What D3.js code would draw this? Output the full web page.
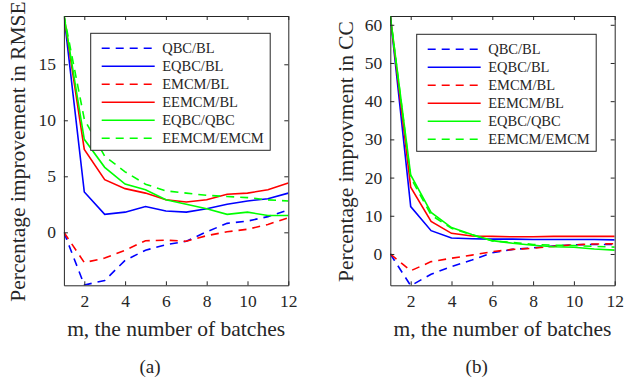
<!DOCTYPE html>
<html><head><meta charset="utf-8">
<script src="https://cdn.jsdelivr.net/npm/d3@7"></script>
<style>body{margin:0;background:#fff}svg{display:block}</style>
</head><body>
<svg id="c" width="641" height="388"></svg>
<script>
const batches = [1,2,3,4,5,6,7,8,9,10,11,12];
const seriesNames = ["QBC/BL","EQBC/BL","EMCM/BL","EEMCM/BL","EQBC/QBC","EEMCM/EMCM"];
const seriesColors = ["#0000ff","#0000ff","#ff0000","#ff0000","#00ff00","#00ff00"];
const seriesDashed = [true,false,true,false,false,true];

// Panel (a): RMSE improvement
const rmseQBC_BL     = [0,-4.7,-4.3,-2.5,-1.6,-1.1,-0.8,0.05,0.8,1.0,1.4,2.0];
const rmseEQBC_BL    = [19.4,3.6,1.6,1.8,2.3,1.9,1.8,2.1,2.5,2.8,3.0,3.5];
const rmseEMCM_BL    = [0,-2.7,-2.3,-1.6,-0.75,-0.7,-0.8,-0.3,0.05,0.27,0.7,1.3];
const rmseEEMCM_BL   = [19.4,7.4,4.7,3.9,3.5,2.9,2.7,2.9,3.4,3.5,3.8,4.4];
const rmseEQBC_QBC   = [19.4,8.3,5.8,4.3,3.8,2.9,2.5,2.1,1.6,1.8,1.5,1.5];
const rmseEEMCM_EMCM = [19.4,10.1,6.8,5.4,4.3,3.7,3.5,3.3,3.2,3.1,2.9,2.8];
const rmseTicks = [0,5,10,15];

// Panel (b): CC improvement
const ccQBC_BL     = [0,-8.3,-5.3,-3.3,-1.6,0.3,1.2,1.6,2.1,2.4,2.5,2.5];
const ccEQBC_BL    = [62.3,12.4,6.1,4.2,4.0,3.9,3.9,3.8,3.8,3.8,3.8,3.7];
const ccEMCM_BL    = [0,-4.4,-2.0,-1.1,-0.3,0.6,1.2,1.5,2.0,2.4,2.6,2.7];
const ccEEMCM_BL   = [62.3,17.5,8.5,5.4,4.7,4.6,4.5,4.5,4.6,4.6,4.6,4.6];
const ccEQBC_QBC   = [62.3,20.7,10.9,6.9,5.1,3.5,2.8,2.3,1.9,1.75,1.3,1.0];
const ccEEMCM_EMCM = [62.3,20.0,10.2,6.7,5.0,3.4,3.0,2.5,2.3,2.2,2.0,1.8];
const ccTicks = [0,10,20,30,40,50,60];

const xTicks = [2,4,6,8,10,12];

const svg = d3.select("#c");
const axisColor = "#262626";
const FONT = '"Liberation Serif"';

function panel(cfg){
  const g = svg.append("g");
  const x = d3.scaleLinear().domain([1,12]).range([cfg.x0,cfg.x1]);
  const y = d3.scaleLinear().domain(cfg.ydom).range([cfg.y1,cfg.y0]);
  const clipId = "clip"+cfg.id;
  svg.append("clipPath").attr("id",clipId).append("rect")
    .attr("x",cfg.x0).attr("y",cfg.y0).attr("width",cfg.x1-cfg.x0).attr("height",cfg.y1-cfg.y0);

  const line = d3.line().x((d,i)=>x(batches[i])).y(d=>y(d));
  const lines = g.append("g").attr("clip-path",`url(#${clipId})`);
  cfg.series.forEach((s,k)=>{
    lines.append("path").attr("d",line(s)).attr("fill","none")
      .attr("stroke",seriesColors[k]).attr("stroke-width",1.6)
      .attr("stroke-dasharray",seriesDashed[k]?"8,6":null);
  });

  const tl = 4;
  const bottom = d3.axisBottom(x).tickValues(xTicks).tickSizeInner(-tl).tickSizeOuter(0).tickPadding(9);
  const top = d3.axisTop(x).tickValues(xTicks).tickSizeInner(-tl).tickSizeOuter(0).tickFormat("");
  const left = d3.axisLeft(y).tickValues(cfg.yticks).tickSizeInner(-tl).tickSizeOuter(0).tickPadding(8);
  const right = d3.axisRight(y).tickValues(cfg.yticks).tickSizeInner(-tl).tickSizeOuter(0).tickFormat("");
  const styleAx = a => {
    a.selectAll("path").attr("stroke",axisColor).attr("stroke-width",1);
    a.selectAll("line").attr("stroke",axisColor).attr("stroke-width",1);
    a.selectAll("text").attr("font-size",17.5).attr("fill",axisColor).style("font-family",FONT);
  };
  g.append("g").attr("transform",`translate(0,${cfg.y1})`).call(bottom).call(styleAx);
  g.append("g").attr("transform",`translate(0,${cfg.y0})`).call(top).call(styleAx);
  g.append("g").attr("transform",`translate(${cfg.x0},0)`).call(left).call(styleAx);
  g.append("g").attr("transform",`translate(${cfg.x1},0)`).call(right).call(styleAx);

  const txt = (sel) => sel.style("font-family",FONT).attr("fill",axisColor);
  g.append("text").attr("x",(cfg.x0+cfg.x1)/2).attr("y",336).attr("text-anchor","middle")
    .attr("font-size",21.5).call(txt).text("m, the number of batches");
  g.append("text").attr("transform",`translate(${cfg.ylx},151.5) rotate(-90)`).attr("text-anchor","middle")
    .attr("font-size",21.5).call(txt).text(cfg.ylabel);
  g.append("text").attr("x",cfg.capx).attr("y",373).attr("text-anchor","middle")
    .attr("font-size",19).call(txt).text(cfg.caption);

  const lg = g.append("g");
  lg.append("rect").attr("x",cfg.lx).attr("y",cfg.ly).attr("width",179.5).attr("height",117)
    .attr("fill","#fff").attr("stroke",axisColor).attr("stroke-width",1);
  seriesNames.forEach((n,k)=>{
    const yy = cfg.ly + 15 + k*18;
    lg.append("line").attr("x1",cfg.lx+11).attr("x2",cfg.lx+64).attr("y1",yy).attr("y2",yy)
      .attr("stroke",seriesColors[k]).attr("stroke-width",1.6)
      .attr("stroke-dasharray",seriesDashed[k]?"8,6":null);
    lg.append("text").attr("x",cfg.lx+71.5).attr("y",yy+5).attr("font-size",14.5).call(txt).text(n);
  });
}

panel({id:"a",x0:63.9,x1:288.3,y0:16,y1:285.3,ydom:[-4.73,19.31],yticks:rmseTicks,
  series:[rmseQBC_BL,rmseEQBC_BL,rmseEMCM_BL,rmseEEMCM_BL,rmseEQBC_QBC,rmseEEMCM_EMCM],
  ylabel:"Percentage improvement in RMSE",ylx:25,caption:"(a)",capx:150,lx:90.7,ly:33.3});
panel({id:"b",x0:390.3,x1:614.7,y0:16,y1:285.3,ydom:[-8.2,62.3],yticks:ccTicks,
  series:[ccQBC_BL,ccEQBC_BL,ccEMCM_BL,ccEEMCM_BL,ccEQBC_QBC,ccEEMCM_EMCM],
  ylabel:"Percentage improvment in CC",ylx:353,caption:"(b)",capx:476.7,lx:416.7,ly:34.3});
</script>
</body></html>
